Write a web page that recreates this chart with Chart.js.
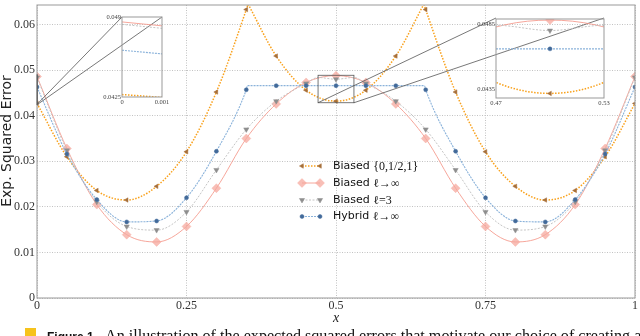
<!DOCTYPE html>
<html>
<head>
<meta charset="utf-8">
<script src="https://cdn.jsdelivr.net/npm/chart.js@4.4.1/dist/chart.umd.min.js"></script>
<style>
  html, body { margin: 0; padding: 0; background: #fff; }
  #wrap { position: relative; width: 640px; height: 336px; overflow: hidden; }
  #wrap canvas { position: absolute; left: 0; top: 0; }
</style>
</head>
<body>
<div id="wrap">
  <canvas id="main" width="640" height="336"></canvas>
</div>
<script>
// ---- data ----
const xTicks = [0, 0.25, 0.5, 0.75, 1];
const yTicks = [0, 0.01, 0.02, 0.03, 0.04, 0.05, 0.06];

// Biased {0,1/2,1}
const xBiased012 = [0, 0.05, 0.1, 0.15, 0.2, 0.25, 0.3, 0.35, 0.353, 0.4, 0.45, 0.5, 0.55, 0.6, 0.647, 0.65, 0.7, 0.75, 0.8, 0.85, 0.9, 0.95, 1];
const yBiased012 = [0.0427, 0.0310, 0.0236, 0.0215, 0.0245, 0.0321, 0.0452, 0.0633, 0.0645, 0.0531, 0.0456, 0.0432, 0.0456, 0.0531, 0.0645, 0.0633, 0.0452, 0.0321, 0.0245, 0.0215, 0.0236, 0.0310, 0.0427];
const cuspBiased012 = [0.353, 0.647];

// Biased l -> inf
const xBiasedInf = [0, 0.05, 0.1, 0.15, 0.2, 0.25, 0.3, 0.35, 0.4, 0.45, 0.5, 0.55, 0.6, 0.65, 0.7, 0.75, 0.8, 0.85, 0.9, 0.95, 1];
const yBiasedInf = [0.0486, 0.0328, 0.0205, 0.0139, 0.0123, 0.0157, 0.0241, 0.0350, 0.0426, 0.0473, 0.0488, 0.0473, 0.0426, 0.0350, 0.0241, 0.0157, 0.0123, 0.0139, 0.0205, 0.0328, 0.0486];

// Biased l = 3
const xBiased3 = [0, 0.05, 0.1, 0.15, 0.2, 0.25, 0.3, 0.35, 0.4, 0.45, 0.47, 0.5, 0.53, 0.55, 0.6, 0.65, 0.7, 0.75, 0.8, 0.85, 0.9, 0.95, 1];
const yBiased3 = [0.0484, 0.0324, 0.0211, 0.0157, 0.0149, 0.0189, 0.0281, 0.0370, 0.0432, 0.0471, 0.0484, 0.0480, 0.0484, 0.0471, 0.0432, 0.0370, 0.0281, 0.0189, 0.0149, 0.0157, 0.0211, 0.0324, 0.0484];

// Hybrid l -> inf
const xHybrid = [0, 0.05, 0.1, 0.15, 0.2, 0.25, 0.3, 0.35, 0.352, 0.4, 0.45, 0.5, 0.55, 0.6, 0.648, 0.65, 0.7, 0.75, 0.8, 0.85, 0.9, 0.95, 1];
const yHybrid = [0.0463, 0.0316, 0.0216, 0.0167, 0.0169, 0.0220, 0.0322, 0.0457, 0.0466, 0.0466, 0.0466, 0.0466, 0.0466, 0.0466, 0.0466, 0.0457, 0.0322, 0.0220, 0.0169, 0.0167, 0.0216, 0.0316, 0.0463];

const seriesNames = ['Biased', 'Biased', 'Biased', 'Hybrid'];
const seriesMath = ['{0,1/2,1}', 'ℓ→∞', 'ℓ=3', 'ℓ→∞'];

// zoomed insets
const insetLeftX = [0, 0.001];
const insetLeftY = [0.0425, 0.049];
const insetRightX = [0.47, 0.53];
const insetRightY = [0.04285, 0.04888];
const insetRightYTicks = [0.0435, 0.0485];

const captionBold = 'Figure 1.';
const captionText = 'An illustration of the expected squared errors that motivate our choice of creating a';

// ---- styles ----
const styles = [
  { color: '#f9a11b', dash: [1.5, 1.5], width: 1.5, marker: 'triangle', rot: -90, r: 2.6, fill: '#a66f3a' },
  { color: 'rgba(244,150,138,0.85)', dash: [], width: 1, marker: 'rectRot', rot: 0, r: 4.5, fill: 'rgba(246,168,158,0.75)' },
  { color: '#c4c4c4', dash: [2, 1.5], width: 1, marker: 'triangle', rot: 180, r: 3, fill: '#8e8e8e' },
  { color: '#8ab2da', dash: [2, 1], width: 1.1, marker: 'circle', rot: 0, r: 2, fill: '#426a9a' }
];

const series = [
  { xs: xBiased012, ys: yBiased012, cusps: cuspBiased012 },
  { xs: xBiasedInf, ys: yBiasedInf, cusps: [] },
  { xs: xBiased3, ys: yBiased3, cusps: [] },
  { xs: xHybrid, ys: yHybrid, cusps: [] }
];

const onMarkerGrid = x => Math.abs(x * 20 - Math.round(x * 20)) < 1e-9;

function points(s) {
  const out = [];
  s.xs.forEach((x, i) => {
    out.push({ x: x, y: s.ys[i] });
    if (s.cusps.includes(x)) {          // break the curve so the cusp stays sharp
      out.push({ x: x, y: null });
      out.push({ x: x, y: s.ys[i] });
    }
  });
  return out;
}

function makeDatasets(markers) {
  return series.map((s, i) => {
    const st = styles[i];
    return {
      data: points(s),
      borderColor: st.color,
      borderWidth: st.width,
      borderDash: st.dash,
      cubicInterpolationMode: 'monotone',
      capBezierPoints: false,
      spanGaps: false,
      clip: 0,
      order: 3 - i,
      pointStyle: st.marker,
      pointRotation: st.rot,
      pointRadius: ctx => (markers && ctx.raw && onMarkerGrid(ctx.raw.x)) ? st.r : 0,
      pointBackgroundColor: st.fill,
      pointBorderColor: st.fill,
      pointBorderWidth: 0.5
    };
  });
}

// no automatic label padding: the plot box is placed by hand
function noPad(s) {
  s.paddingTop = 0; s.paddingBottom = 0; s.paddingLeft = 0; s.paddingRight = 0;
}

const frame = {
  id: 'frame',
  afterDatasetsDraw(chart) {
    const a = chart.chartArea, c = chart.ctx;
    c.save();
    c.strokeStyle = '#999';
    c.lineWidth = 1;
    c.strokeRect(a.left, a.top, a.right - a.left, a.bottom - a.top);
    c.restore();
  }
};

// ---- insets ----
const IW = 30, IH = 12, IPT = 4, IPR = 14;
const insetLeftBox = { left: 122, top: 17, width: 40, height: 80 };
const insetRightBox = { left: 496, top: 18, width: 108, height: 80 };

function insetChart(box, xr, yr, xt, yt, markers) {
  const cv = document.createElement('canvas');
  cv.width = IW + box.width + IPR;
  cv.height = IPT + box.height + IH;
  cv.style.left = (box.left - IW) + 'px';
  cv.style.top = (box.top - IPT) + 'px';
  document.getElementById('wrap').appendChild(cv);
  const tickFont = { family: 'Liberation Serif', size: 6.5 };
  return new Chart(cv, {
    type: 'line',
    data: { datasets: makeDatasets(markers) },
    options: {
      responsive: false,
      animation: false,
      events: [],
      layout: { padding: { top: IPT, right: IPR, left: 0, bottom: 0 } },
      plugins: { legend: { display: false }, tooltip: { enabled: false } },
      scales: {
        x: {
          type: 'linear', min: xr[0], max: xr[1],
          afterFit: s => { s.height = IH; noPad(s); },
          afterBuildTicks: s => { s.ticks = xt.map(v => ({ value: v })); },
          ticks: { callback: v => String(v), font: tickFont, color: '#444', padding: 1, maxRotation: 0, autoSkip: false },
          grid: { display: false, drawTicks: false },
          border: { display: false }
        },
        y: {
          type: 'linear', min: yr[0], max: yr[1],
          afterFit: s => { s.width = IW; noPad(s); },
          afterBuildTicks: s => { s.ticks = yt.map(v => ({ value: v })); },
          ticks: { callback: v => String(v), font: tickFont, color: '#444', padding: 1, autoSkip: false },
          grid: { display: false, drawTicks: false },
          border: { display: false }
        }
      }
    },
    plugins: [frame]
  });
}

insetChart(insetLeftBox, insetLeftX, insetLeftY, insetLeftX, insetLeftY, false);
insetChart(insetRightBox, insetRightX, insetRightY, insetRightX, insetRightYTicks, true);

// ---- decorations of the main chart ----
const decor = {
  id: 'decor',
  afterDatasetsDraw(chart) {
    const c = chart.ctx, sx = chart.scales.x, sy = chart.scales.y;
    c.save();
    c.strokeStyle = '#555';
    c.lineWidth = 0.8;
    // marked regions and connectors to the insets
    [[insetLeftX, insetLeftY, insetLeftBox], [insetRightX, insetRightY, insetRightBox]].forEach(([xr, yr, box]) => {
      const x0 = sx.getPixelForValue(xr[0]), x1 = sx.getPixelForValue(xr[1]);
      const y0 = sy.getPixelForValue(yr[0]), y1 = sy.getPixelForValue(yr[1]);
      c.strokeRect(x0, y1, x1 - x0, y0 - y1);
      c.beginPath();
      c.moveTo(x0, y0); c.lineTo(box.left, box.top);
      c.moveTo(x1, y0); c.lineTo(box.left + box.width, box.top);
      c.stroke();
    });
    c.restore();
  },
  afterDraw(chart) {
    const c = chart.ctx;
    c.save();
    // y axis title
    c.fillStyle = '#222';
    c.font = '14px "DejaVu Sans"';
    c.textAlign = 'center';
    c.textBaseline = 'middle';
    c.translate(7, 141);
    c.rotate(-Math.PI / 2);
    c.fillText('Exp. Squared Error', 0, 0);
    c.restore();

    // legend
    c.save();
    const rowY = [166, 183, 200, 216.5];
    const x1 = 302, x2 = 320, tx = 333;
    styles.forEach((st, i) => {
      const y = rowY[i];
      c.strokeStyle = st.color;
      c.lineWidth = st.width;
      c.setLineDash(st.dash);
      c.beginPath(); c.moveTo(x1, y); c.lineTo(x2, y); c.stroke();
      c.setLineDash([]);
      c.fillStyle = st.fill; c.strokeStyle = st.fill; c.lineWidth = 0.5;
      [x1, x2].forEach(px => Chart.helpers.drawPoint(c, { pointStyle: st.marker, rotation: st.rot, radius: st.r, borderWidth: 0.5 }, px, y));
      c.fillStyle = '#111';
      c.textAlign = 'left';
      c.textBaseline = 'middle';
      c.font = '11px "DejaVu Sans"';
      const label = seriesNames[i] + ' ';
      c.fillText(label, tx, y);
      const w = c.measureText(label).width;
      c.font = '12px "Liberation Serif"';
      c.fillText(seriesMath[i], tx + w, y + 0.5);
    });
    c.restore();

    // caption (cut off by the bottom edge)
    c.save();
    c.fillStyle = '#f6c31c';
    c.fillRect(25, 328, 11, 10);
    c.fillStyle = '#111';
    c.textBaseline = 'alphabetic';
    c.font = 'bold 13px "Liberation Sans"';
    const b = 13 * 50 / c.measureText(captionBold).width;
    c.font = 'bold ' + b.toFixed(2) + 'px "Liberation Sans"';
    c.fillText(captionBold, 47, 341);
    c.font = '14px "Liberation Serif"';
    const s = 14 * 537 / c.measureText(captionText).width;
    c.font = s.toFixed(2) + 'px "Liberation Serif"';
    c.fillText(captionText, 105, 341);
    c.restore();
  }
};

const tickFont = { family: 'Liberation Serif', size: 12 };
const gridOpts = { color: '#c2c2c2', lineWidth: 1, drawTicks: false };

new Chart(document.getElementById('main'), {
  type: 'line',
  data: { datasets: makeDatasets(true) },
  options: {
    responsive: false,
    animation: false,
    events: [],
    layout: { padding: { top: 1, right: 3, left: 0, bottom: 0 } },
    plugins: { legend: { display: false }, tooltip: { enabled: false } },
    scales: {
      x: {
        type: 'linear', min: 0, max: 1,
        afterFit: s => { s.height = 38; noPad(s); },
        afterBuildTicks: s => { s.ticks = xTicks.map(v => ({ value: v })); },
        ticks: { callback: v => String(v), font: tickFont, color: '#333', padding: 1, maxRotation: 0, autoSkip: false },
        grid: gridOpts,
        border: { display: false, dash: [1, 1.5] },
        title: { display: true, text: 'x', font: { family: 'Liberation Serif', size: 14, style: 'italic' }, color: '#222', padding: { top: 0, bottom: 9 } }
      },
      y: {
        type: 'linear', min: 0, max: 0.0643,
        afterFit: s => { s.width = 37; noPad(s); },
        afterBuildTicks: s => { s.ticks = yTicks.map(v => ({ value: v })); },
        ticks: { callback: v => String(v), font: tickFont, color: '#333', padding: 2, autoSkip: false },
        grid: gridOpts,
        border: { display: false, dash: [1, 1.5] }
      }
    }
  },
  plugins: [frame, decor]
});
</script>
</body>
</html>
